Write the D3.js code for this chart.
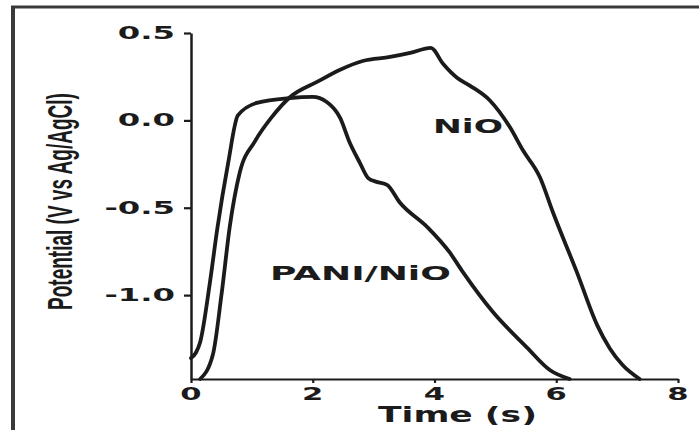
<!DOCTYPE html>
<html>
<head>
<meta charset="utf-8">
<script src="https://cdn.jsdelivr.net/npm/d3@7"></script>
<style>
  html, body { margin: 0; padding: 0; background: #fff; }
  svg { display: block; }
</style>
</head>
<body>
<svg id="chart" width="699" height="430"></svg>
<script>
// ---- data ----
const xTicks = [0, 2, 4, 6, 8];
const yTicks = [0.5, 0.0, -0.5, -1.0];
const yTickLabels = ["0.5", "0.0", "-0.5", "-1.0"];
const xTickLabels = ["0", "2", "4", "6", "8"];

const paniTime = [0, 0.08, 0.15, 0.31, 0.43, 0.61, 0.77, 1.08, 1.63, 2.0, 2.23, 2.45, 2.61, 2.77, 2.91, 3.05, 3.22, 3.43, 3.88, 4.25, 4.47, 4.96, 5.52, 5.9, 6.22];
const paniPotential = [-1.36, -1.33, -1.27, -0.93, -0.625, -0.245, 0.028, 0.10, 0.128, 0.134, 0.105, 0.014, -0.13, -0.24, -0.33, -0.352, -0.369, -0.47, -0.61, -0.756, -0.87, -1.097, -1.30, -1.43, -1.48];

const nioTime = [0.15, 0.36, 0.5, 0.64, 0.8, 1.05, 1.33, 1.63, 2.07, 2.45, 2.82, 3.27, 3.6, 3.94, 4.14, 4.37, 4.58, 4.91, 5.24, 5.45, 5.73, 5.95, 6.34, 6.67, 6.88, 7.09, 7.37];
const nioPotential = [-1.48, -1.34, -1.0, -0.6, -0.30, -0.12, 0.02, 0.134, 0.22, 0.29, 0.34, 0.363, 0.386, 0.415, 0.324, 0.244, 0.199, 0.114, -0.04, -0.17, -0.324, -0.53, -0.87, -1.17, -1.305, -1.40, -1.48];

const seriesNames = ["PANI/NiO", "NiO"];

// ---- drawing ----
const svg = d3.select("#chart");
const x = d3.scaleLinear().domain([0, 8]).range([191, 678]);
const y = d3.scaleLinear().domain([-1.48, 0.5]).range([379, 33]);

const ink = "#1b1b1b";
const labelFont = "'DejaVu Sans', sans-serif";

// helper: place text, then squeeze/stretch it horizontally to a target width
function fitText(sel, tx, ty, targetWidth, rotate, anchor) {
  const w = sel.node().getComputedTextLength();
  const s = targetWidth / w;
  const off = anchor === "end" ? -w : anchor === "middle" ? -w / 2 : 0;
  sel.attr("text-anchor", "start").attr("x", off)
    .attr("transform", `translate(${tx},${ty})${rotate ? " rotate(" + rotate + ")" : ""} scale(${s},1)`);
  return sel;
}

// frame (top and left border)
svg.append("line").attr("x1", 11).attr("x2", 699).attr("y1", 7).attr("y2", 7)
  .attr("stroke", "#3a3a3a").attr("stroke-width", 3);
svg.append("line").attr("x1", 13).attr("x2", 13).attr("y1", 6).attr("y2", 430)
  .attr("stroke", "#3a3a3a").attr("stroke-width", 4);

// y axis
const yAxis = svg.append("g").attr("transform", `translate(${x(0)},0)`)
  .call(d3.axisLeft(y).tickValues(yTicks).tickSize(7).tickSizeOuter(0).tickFormat(""));
yAxis.select(".domain").attr("stroke", ink).attr("stroke-width", 2.5);
yAxis.selectAll(".tick line").attr("stroke", ink).attr("stroke-width", 2.2);

// x axis
const xAxis = svg.append("g").attr("transform", `translate(0,${y(-1.48)})`)
  .call(d3.axisBottom(x).tickValues(xTicks).tickSize(4).tickSizeOuter(0).tickFormat(""));
xAxis.select(".domain").attr("stroke", ink).attr("stroke-width", 1.8);
xAxis.selectAll(".tick line").attr("stroke", ink).attr("stroke-width", 2.2);

// tick labels (wide bold)
yTicks.forEach((v, i) => {
  const t = svg.append("text")
    .attr("font-family", labelFont).attr("font-weight", "bold").attr("font-size", 17)
    .attr("fill", ink)
    .text(yTickLabels[i]);
  const w = t.node().getComputedTextLength();
  fitText(t, 175, y(v) + 6, w * 1.9, 0, "end");
});
xTicks.forEach((v, i) => {
  const t = svg.append("text")
    .attr("font-family", labelFont).attr("font-weight", "bold").attr("font-size", 17)
    .attr("fill", ink)
    .text(xTickLabels[i]);
  const w = t.node().getComputedTextLength();
  fitText(t, x(v), 400, w * 1.8, 0, "middle");
});

// axis titles
fitText(svg.append("text")
  .attr("font-family", labelFont).attr("font-weight", "bold").attr("font-size", 20.5)
  .attr("fill", ink)
  .text("Time (s)"), 378, 422, 159, 0, "start");

fitText(svg.append("text")
  .attr("font-family", "'Liberation Sans', Arial, sans-serif").attr("font-weight", "bold").attr("font-size", 36)
  .attr("fill", ink)
  .text("Potential (V vs Ag/AgCl)"), 72, 310, 217, -90, "start");

// curves
const line = d3.line().x(d => x(d[0])).y(d => y(d[1])).curve(d3.curveMonotoneX);
const pani = paniTime.map((t, i) => [t, paniPotential[i]]);
const nio = nioTime.map((t, i) => [t, nioPotential[i]]);

[pani, nio].forEach(s => {
  svg.append("path").datum(s).attr("d", line)
    .attr("fill", "none").attr("stroke", ink).attr("stroke-width", 3.8)
    .attr("stroke-linejoin", "round").attr("stroke-linecap", "round");
});

// series labels
fitText(svg.append("text")
  .attr("font-family", labelFont).attr("font-weight", "bold").attr("font-size", 19)
  .attr("fill", ink)
  .text(seriesNames[0]), 270, 280, 181, 0, "start");
fitText(svg.append("text")
  .attr("font-family", labelFont).attr("font-weight", "bold").attr("font-size", 20)
  .attr("fill", ink)
  .text(seriesNames[1]), 433, 133, 70, 0, "start");
</script>
</body>
</html>
